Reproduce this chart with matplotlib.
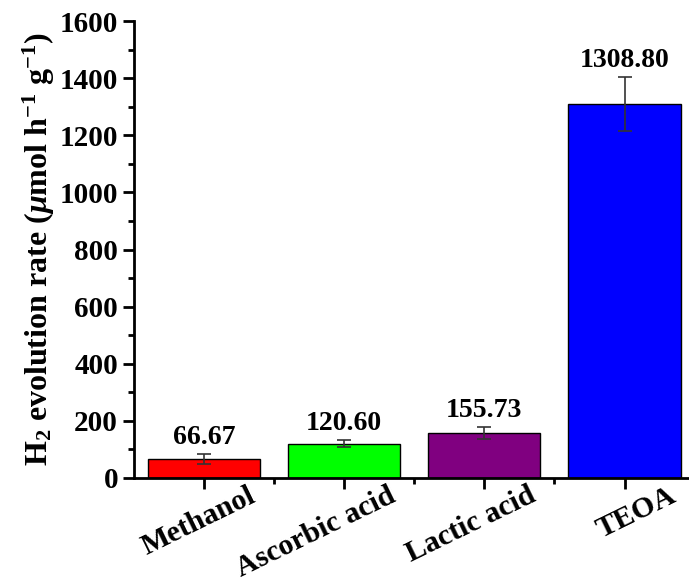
import numpy as np
import matplotlib
matplotlib.use("Agg")
import matplotlib.pyplot as plt
from matplotlib.transforms import ScaledTranslation
from matplotlib.ticker import MultipleLocator

# Sacrificial agents and H2 evolution rates
agents = ['Methanol', 'Ascorbic acid', 'Lactic acid', 'TEOA']
rates = [66.67, 120.60, 155.73, 1308.80]
errors = [17, 12, 21, 95]
colors = ['#ff0000', '#00ff00', '#800080', '#0000ff']

plt.rcParams['font.family'] = 'Liberation Serif'
plt.rcParams['font.weight'] = 'bold'
plt.rcParams['mathtext.fontset'] = 'custom'
plt.rcParams['mathtext.rm'] = 'Liberation Serif:bold'
plt.rcParams['mathtext.bf'] = 'Liberation Serif:bold'
plt.rcParams['mathtext.it'] = 'Liberation Serif:italic:bold'

fig = plt.figure(figsize=(6.89, 5.85), dpi=100)
ax = fig.add_axes([0.1945, 0.183, 0.8055, 0.781])

x = np.arange(len(agents))
ax.bar(x, rates, width=0.8, color=colors, edgecolor='black', linewidth=1.0)
ax.errorbar(x, rates, yerr=errors, fmt='none', ecolor='#333333',
            elinewidth=1.2, capsize=5, capthick=1.2)

for xi, v, e in zip(x, rates, errors):
    ax.text(xi, v + e + 14, f'{v:.2f}', ha='center', va='bottom',
            fontsize=20, fontweight='bold')

ax.set_xlim(-0.5, 3.46)
ax.set_ylim(0, 1600)
ax.yaxis.set_major_locator(MultipleLocator(200))
ax.yaxis.set_minor_locator(MultipleLocator(100))
ax.set_xticks(x)
ax.set_xticks(x[:-1] + 0.5, minor=True)
ax.set_xticklabels([])

# slanted category names, right end sits a bit to the right of each tick
shift = ScaledTranslation(0.44, -0.04, fig.dpi_scale_trans)
for xi, name in zip(x, agents):
    ax.text(xi, 0, name, transform=ax.get_xaxis_transform() + shift,
            rotation=26, ha='right', va='top', rotation_mode='anchor',
            fontsize=21.5, fontweight='bold')

ax.tick_params(axis='both', which='major', direction='out', length=8,
               width=2, labelsize=21)
ax.tick_params(axis='both', which='minor', direction='out', length=4, width=2)
for lab in ax.get_yticklabels():
    lab.set_fontweight('bold')

ax.spines['top'].set_visible(False)
ax.spines['right'].set_visible(False)
ax.spines['left'].set_linewidth(2)
ax.spines['bottom'].set_linewidth(2)

ax.set_ylabel(r'H$_2$ evolution rate ($\mu$mol h$^{-1}$ g$^{-1}$)',
              fontsize=23, fontweight='bold', labelpad=2)

fig.savefig('out.png', dpi=100)
